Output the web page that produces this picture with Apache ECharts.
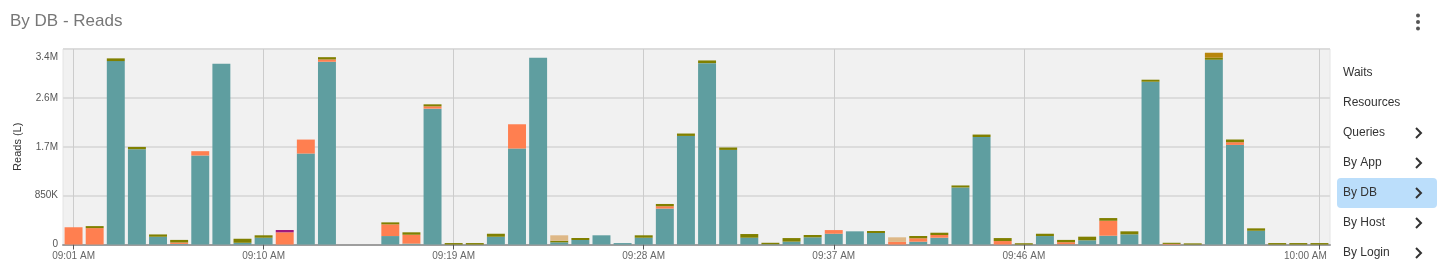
<!DOCTYPE html>
<html>
<head>
<meta charset="utf-8">
<script src="https://cdn.jsdelivr.net/npm/echarts@6/dist/echarts.min.js"></script>
<style>
  html, body { margin: 0; padding: 0; background: #fff; }
  #chart { width: 1440px; height: 279px; }
</style>
</head>
<body>
<div id="chart"></div>
<script>
// ---- data ----
const categories = [
  '09:01 AM','09:02 AM','09:03 AM','09:04 AM','09:05 AM','09:06 AM','09:07 AM','09:08 AM','09:09 AM','09:10 AM',
  '09:11 AM','09:12 AM','09:13 AM','09:14 AM','09:15 AM','09:16 AM','09:17 AM','09:18 AM','09:19 AM','09:20 AM',
  '09:21 AM','09:22 AM','09:23 AM','09:24 AM','09:25 AM','09:26 AM','09:27 AM','09:28 AM','09:29 AM','09:30 AM',
  '09:31 AM','09:32 AM','09:33 AM','09:34 AM','09:35 AM','09:36 AM','09:37 AM','09:38 AM','09:39 AM','09:40 AM',
  '09:41 AM','09:42 AM','09:43 AM','09:44 AM','09:45 AM','09:46 AM','09:47 AM','09:48 AM','09:49 AM','09:50 AM',
  '09:51 AM','09:52 AM','09:53 AM','09:54 AM','09:55 AM','09:56 AM','09:57 AM','09:58 AM','09:59 AM','10:00 AM'
];
// values in thousands of reads
const dbTeal = [0,0,3190,1657,135,10,1548,3144,30,118, 0,1582,3178,0,0,147,15,2363,0,0,
  135,1669,3248,38,78,160,25,118,625,1888, 3154,1645,118,5,50,125,187,229,200,0,
  49,118,992,1870,0,0,147,5,73,153, 177,2831,0,0,3213,1732,239,0,0,0];
const dbCoral = [300,285,0,0,0,25,75,0,0,0, 212,243,40,0,0,203,155,40,0,0,
  0,422,0,0,0,0,0,0,40,0, 0,0,0,0,0,0,64,0,0,45,
  59,47,0,0,60,0,0,35,0,260, 0,0,10,0,0,47,0,0,0,0];
const dbOlive = [0,35,47,40,40,45,0,0,70,42, 0,0,40,0,0,35,42,35,25,25,
  52,0,0,28,35,0,0,42,40,42, 47,42,64,25,62,40,0,0,35,0,
  40,40,35,42,52,22,40,40,63,47, 52,35,20,20,35,47,42,25,25,25];
const dbTan = [0,0,0,0,0,0,0,0,0,0, 0,0,0,0,0,0,0,0,0,0,
  0,0,0,94,0,0,0,0,0,0, 0,0,0,0,0,0,0,0,0,80,
  0,0,0,0,0,0,0,0,0,0, 0,0,0,0,0,0,0,0,0,0];
const dbPurple = [0,0,0,0,0,0,0,0,0,0, 40,0,0,0,0,0,0,0,0,0,
  0,0,0,0,0,0,0,0,0,0, 0,0,0,0,0,0,0,0,0,0,
  0,0,0,0,0,0,0,0,0,0, 0,0,0,0,0,0,0,0,0,0];
const dbGold = [0,0,0,0,0,0,0,0,0,0, 0,0,0,0,0,0,0,0,0,0,
  0,0,0,0,0,0,0,0,0,0, 0,0,0,0,0,0,0,0,0,0,
  0,0,0,0,0,0,0,0,0,0, 0,0,0,0,87,0,0,0,0,0];
const xLabelIdx = [0, 9, 18, 27, 36, 45, 59];
const yTickValues = [0, 850000, 1700000, 2550000, 3400000];
const yTickLabels = ['0', '850K', '1.7M', '2.6M', '3.4M'];
const menuItems = ['Waits', 'Resources', 'Queries', 'By App', 'By DB', 'By Host', 'By Login'];
const menuChevron = [false, false, true, true, true, true, true];
const menuActive = 'By DB';

// ---- chart ----
const FONT = '"Liberation Sans", Arial, sans-serif';
const chart = echarts.init(document.getElementById('chart'));
const K = arr => arr.map(v => v * 1000);
const showLabel = (i) => xLabelIdx.indexOf(i) >= 0;

const seriesDefs = [
  ['DB 1', dbTeal, '#5F9EA0'],
  ['DB 2', dbCoral, '#FF7F50'],
  ['DB 3', dbOlive, '#808000'],
  ['DB 4', dbTan, '#DEB887'],
  ['DB 5', dbPurple, '#A0197D'],
  ['DB 6', dbGold, '#B8860B']
];

const graphics = [];
graphics.push({
  type: 'text', left: 10, top: 13,
  style: { text: 'By DB - Reads', fill: '#777', font: '17px ' + FONT }
});
[15.5, 22, 28.5].forEach(y => graphics.push({
  type: 'circle', shape: { cx: 1418, cy: y, r: 2 }, style: { fill: '#555' }
}));
menuItems.forEach((name, i) => {
  const cy = 72 + i * 30;
  if (name === menuActive) {
    graphics.push({
      type: 'rect', shape: { x: 1337, y: cy - 14, width: 100, height: 30, r: 4 },
      style: { fill: '#BBDEFB' }
    });
  }
  graphics.push({
    type: 'text', x: 1343, y: cy + 1,
    style: { text: name, fill: '#333', font: '12px ' + FONT, textVerticalAlign: 'middle' }
  });
  if (menuChevron[i]) {
    graphics.push({
      type: 'polyline',
      shape: { points: [[1416, cy - 4], [1421, cy + 1], [1416, cy + 6]] },
      style: { stroke: '#333', lineWidth: 2, fill: null }
    });
  }
});

chart.setOption({
  animation: false,
  textStyle: { fontFamily: FONT },
  grid: {
    left: 63, right: 110, top: 49, bottom: 34.5,
    show: true, backgroundColor: '#F1F1F1', borderColor: '#E4E4E4', borderWidth: 1
  },
  xAxis: {
    type: 'category',
    data: categories,
    axisLine: { show: true, lineStyle: { color: '#9E9E9E', width: 2 } },
    axisTick: { show: true, alignWithLabel: true, interval: (i) => showLabel(i), length: 5, lineStyle: { color: '#555' } },
    splitLine: { show: true, alignWithLabel: true, interval: (i) => showLabel(i), lineStyle: { color: '#CCCCCC', width: 1 } },
    axisLabel: {
      interval: (i) => showLabel(i),
      color: '#666', fontSize: 10, margin: 7,
      formatter: (v, i) => i === categories.length - 1 ? '{last|' + v + '}' : v,
      rich: { last: { padding: [0, 28, 0, 0], color: '#666', fontSize: 10 } }
    }
  },
  yAxis: {
    type: 'value',
    min: 0, max: 3400000, interval: 850000,
    name: 'Reads (L)', nameLocation: 'middle', nameGap: 40,
    nameTextStyle: { color: '#333', fontSize: 11 },
    axisLine: { show: false },
    axisTick: { show: false },
    splitLine: { show: true, lineStyle: { color: '#DCDCDC', width: 2 } },
    axisLabel: {
      color: '#555', fontSize: 10, margin: 5,
      verticalAlignMaxLabel: 'top',
      formatter: (v) => {
        const k = yTickValues.indexOf(v);
        if (k < 0) return '';
        return k === yTickValues.length - 1 ? '{top|' + yTickLabels[k] + '}' : yTickLabels[k];
      },
      rich: { top: { padding: [3, 0, 0, 0], color: '#555', fontSize: 10 } }
    }
  },
  series: seriesDefs.map(([name, data, color]) => ({
    name, type: 'bar', stack: 'reads', data: K(data),
    barCategoryGap: '15%',
    itemStyle: { color, borderWidth: 0 }
  })),
  graphic: graphics
});
</script>
</body>
</html>
